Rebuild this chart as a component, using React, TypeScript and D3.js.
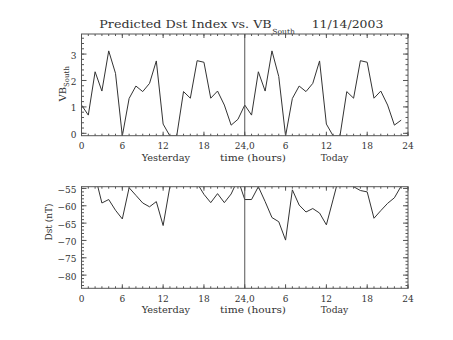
import React from "react";
import * as d3 from "d3";

const hours = d3.range(48);
const vbSouth = [
  1.07, 0.69, 2.33, 1.6, 3.12, 2.27, -0.1, 1.32, 1.79, 1.58, 1.89, 2.74,
  0.35, -0.1, -0.1, 1.58, 1.33, 2.75, 2.69, 1.33, 1.6, 1.07, 0.31, 0.53,
  1.07, 0.69, 2.33, 1.6, 3.12, 2.15, -0.1, 1.32, 1.79, 1.58, 1.89, 2.74,
  0.35, -0.1, -0.1, 1.58, 1.33, 2.75, 2.69, 1.33, 1.6, 1.07, 0.31, 0.5,
];
const dst = [
  -50.5, -50, -51.3, -59.2, -58.2, -61.3, -63.8, -54.8, -57, -59.2, -60.3, -58.8,
  -65.7, -54.4, -52, -51, -52.5, -53.5, -56.7, -59.1, -56.5, -59.1, -56.6, -52.4,
  -58.2, -58.2, -54.5, -58.8, -63.4, -64.6, -69.9, -55.4, -59.8, -61.8, -60.8, -62.1,
  -65.5, -58.1, -50.6, -51, -54.5, -55.6, -56, -63.6, -61.4, -59.3, -57.7, -54.3,
];
const xMajorTicks = [0, 6, 12, 18, 24, 30, 36, 42, 48];
const xTickLabels = ["0", "6", "12", "18", "24,0", "6", "12", "18", "24"];
const vbTicks = [0, 1, 2, 3];
const vbTickLabels = ["0", "1", "2", "3"];
const dstTicks = [-55, -60, -65, -70, -75, -80];
const dstTickLabels = ["\u221255", "\u221260", "\u221265", "\u221270", "\u221275", "\u221280"];

const FONT = "DejaVu Serif";
const AX = "#555";
const TXT = "#333";

type PanelProps = {
  id: string;
  top: number;
  bottom: number;
  yDomain: [number, number];
  values: number[];
  yTicks: number[];
  yLabels: string[];
  yMinorStep: number;
};

const LEFT = 81.5;
const RIGHT = 408;

function Panel({ id, top, bottom, yDomain, values, yTicks, yLabels, yMinorStep }: PanelProps) {
  const x = d3.scaleLinear().domain([0, 48]).range([LEFT, RIGHT]);
  const y = d3.scaleLinear().domain(yDomain).range([bottom, top]);
  const line = d3
    .line<number>()
    .x((_, i) => x(hours[i]))
    .y((d) => y(d));
  const xMinor = d3.range(0, 49, 1);
  const lo = Math.ceil(yDomain[0] / yMinorStep);
  const hi = Math.floor(yDomain[1] / yMinorStep);
  const yMinor = d3.range(lo, hi + 1).map((k) => k * yMinorStep);
  const xMaj = 4, xMin = 2, yMaj = 5, yMin = 2.5;
  return (
    <g>
      <defs>
        <clipPath id={id}>
          <rect x={LEFT} y={top} width={RIGHT - LEFT} height={bottom - top} />
        </clipPath>
      </defs>
      <path d={line(values) || ""} fill="none" stroke="#333" strokeWidth={1} clipPath={`url(#${id})`} />
      <line x1={x(24)} x2={x(24)} y1={top} y2={bottom} stroke={AX} strokeWidth={1} />
      <rect x={LEFT} y={top} width={RIGHT - LEFT} height={bottom - top} fill="none" stroke={AX} strokeWidth={1} />
      {xMinor.map((t) => (
        <g key={"xm" + t}>
          <line x1={x(t)} x2={x(t)} y1={bottom} y2={bottom - xMin} stroke={AX} />
          <line x1={x(t)} x2={x(t)} y1={top} y2={top + xMin} stroke={AX} />
        </g>
      ))}
      {xMajorTicks.map((t, i) => (
        <g key={"xM" + t}>
          <line x1={x(t)} x2={x(t)} y1={bottom} y2={bottom - xMaj} stroke={AX} />
          <line x1={x(t)} x2={x(t)} y1={top} y2={top + xMaj} stroke={AX} />
          <text x={x(t)} y={bottom + 13.5} textAnchor="middle" fontFamily={FONT} fontSize={9} fill={TXT}>
            {xTickLabels[i]}
          </text>
        </g>
      ))}
      {yMinor.map((t) => (
        <g key={"ym" + t}>
          <line x1={LEFT} x2={LEFT + yMin} y1={y(t)} y2={y(t)} stroke={AX} />
          <line x1={RIGHT} x2={RIGHT - yMin} y1={y(t)} y2={y(t)} stroke={AX} />
        </g>
      ))}
      {yTicks.map((t, i) => (
        <g key={"yM" + t}>
          <line x1={LEFT} x2={LEFT + yMaj} y1={y(t)} y2={y(t)} stroke={AX} />
          <line x1={RIGHT} x2={RIGHT - yMaj} y1={y(t)} y2={y(t)} stroke={AX} />
          <text x={LEFT - 5} y={y(t) + 4.5} textAnchor="end" fontFamily={FONT} fontSize={9} fill={TXT}>
            {yLabels[i]}
          </text>
        </g>
      ))}
      <text x={141.7} y={bottom + 25} fontFamily={FONT} fontSize={9} fill={TXT} textLength={48.3} lengthAdjust="spacingAndGlyphs">
        Yesterday
      </text>
      <text x={220} y={bottom + 25} fontFamily={FONT} fontSize={9} fill={TXT} textLength={66} lengthAdjust="spacingAndGlyphs">
        time (hours)
      </text>
      <text x={320.7} y={bottom + 25} fontFamily={FONT} fontSize={9} fill={TXT} textLength={27.6} lengthAdjust="spacingAndGlyphs">
        Today
      </text>
    </g>
  );
}

export default function App() {
  return (
    <svg width={453} height={340} style={{ display: "block", position: "absolute", left: 0, top: 0, background: "#fff" }}>
      <rect x={0} y={0} width={453} height={340} fill="#fff" />
      <text x={99.3} y={28.3} fontFamily={FONT} fontSize={11} fill={TXT} textLength={172.4} lengthAdjust="spacingAndGlyphs">
        Predicted Dst Index vs. VB
      </text>
      <text x={272.3} y={34} fontFamily={FONT} fontSize={7} fill={TXT} textLength={22.7} lengthAdjust="spacingAndGlyphs">
        South
      </text>
      <text x={311.7} y={28.3} fontFamily={FONT} fontSize={11} fill={TXT} textLength={71.6} lengthAdjust="spacingAndGlyphs">
        11/14/2003
      </text>
      <Panel
        id="clipTop"
        top={34}
        bottom={135.7}
        yDomain={[-0.09, 3.76]}
        values={vbSouth}
        yTicks={vbTicks}
        yLabels={vbTickLabels}
        yMinorStep={0.2}
      />
      <Panel
        id="clipBot"
        top={186.7}
        bottom={288.3}
        yDomain={[-83.8, -54.5]}
        values={dst}
        yTicks={dstTicks}
        yLabels={dstTickLabels}
        yMinorStep={1}
      />
      <g transform="translate(66,101.5) rotate(-90)">
        <text x={0} y={0} fontFamily={FONT} fontSize={10} fill={TXT}>
          VB
          <tspan fontSize={7} dy={3}>South</tspan>
        </text>
      </g>
      <g transform="translate(51.5,222) rotate(-90)">
        <text x={0} y={0} textAnchor="middle" fontFamily={FONT} fontSize={9} fill={TXT}>
          Dst (nT)
        </text>
      </g>
    </svg>
  );
}
